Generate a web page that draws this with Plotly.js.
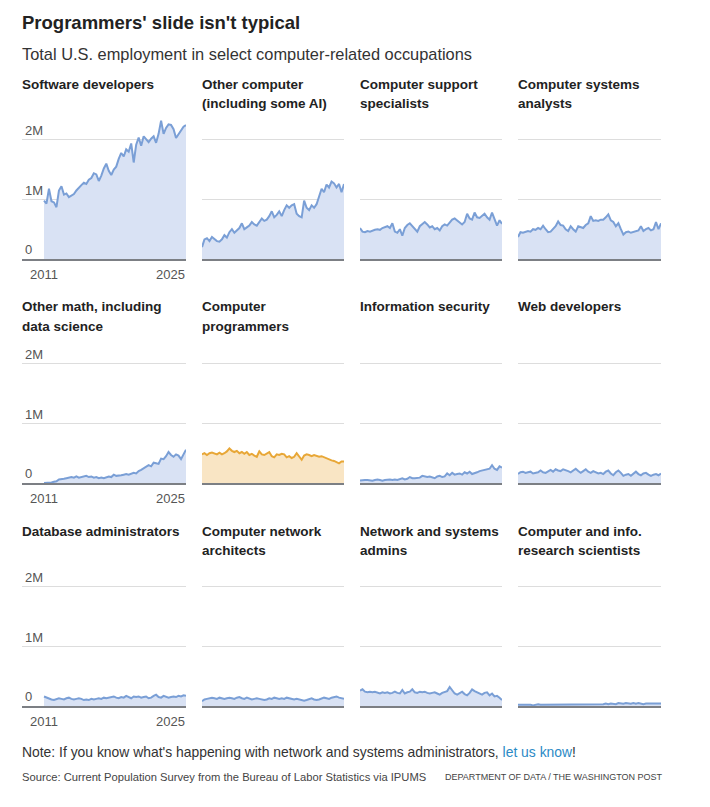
<!DOCTYPE html>
<html>
<head>
<meta charset="utf-8">
<script src="https://cdn.plot.ly/plotly-3.0.1.min.js"></script>
<style>
  html, body { margin: 0; padding: 0; background: #ffffff; }
  #chart { width: 710px; height: 807px; }
</style>
</head>
<body>
<div id="chart"></div>
<script>
// ---- Data (millions of workers, quarterly, 2011 Q1 -> 2025 Q2) ----
const startYear = 2011;
const nPoints = 58;

const softwareDevelopers = [0.98,0.93,1.18,0.97,0.95,0.87,1.15,1.22,1.08,1.10,1.04,1.07,1.09,1.15,1.20,1.24,1.28,1.26,1.33,1.36,1.44,1.42,1.31,1.40,1.52,1.60,1.48,1.41,1.50,1.55,1.68,1.78,1.72,1.84,1.80,1.94,1.62,1.92,2.04,1.90,2.06,2.00,1.96,2.02,2.06,1.95,2.10,2.32,2.10,2.20,2.26,2.25,2.18,2.03,2.10,2.16,2.22,2.25];
const otherComputer = [0.20,0.33,0.35,0.30,0.37,0.34,0.30,0.29,0.33,0.40,0.36,0.45,0.50,0.44,0.48,0.52,0.60,0.50,0.53,0.56,0.62,0.58,0.56,0.63,0.68,0.64,0.66,0.72,0.80,0.70,0.74,0.80,0.72,0.82,0.90,0.86,0.90,0.92,0.76,0.72,0.70,0.98,0.86,0.82,0.90,0.86,0.92,1.05,1.18,1.12,1.25,1.20,1.30,1.27,1.20,1.26,1.12,1.26];
const computerSupport = [0.52,0.46,0.45,0.47,0.46,0.48,0.49,0.50,0.49,0.52,0.53,0.55,0.52,0.60,0.46,0.44,0.50,0.39,0.52,0.57,0.60,0.55,0.50,0.46,0.55,0.58,0.62,0.58,0.53,0.55,0.50,0.52,0.48,0.55,0.58,0.56,0.62,0.66,0.68,0.65,0.62,0.58,0.62,0.76,0.68,0.66,0.78,0.70,0.69,0.72,0.76,0.70,0.66,0.78,0.68,0.56,0.65,0.59];
const systemsAnalysts = [0.37,0.45,0.44,0.46,0.47,0.46,0.50,0.49,0.52,0.50,0.56,0.50,0.45,0.46,0.50,0.55,0.63,0.57,0.56,0.50,0.47,0.55,0.50,0.46,0.55,0.54,0.52,0.57,0.60,0.72,0.64,0.65,0.64,0.66,0.66,0.70,0.75,0.65,0.62,0.55,0.60,0.50,0.41,0.45,0.46,0.44,0.45,0.47,0.48,0.55,0.47,0.50,0.52,0.48,0.50,0.62,0.50,0.60];
const otherMath = [0.00,0.00,0.01,0.01,0.02,0.03,0.06,0.06,0.07,0.08,0.09,0.10,0.09,0.11,0.09,0.10,0.11,0.12,0.10,0.11,0.09,0.10,0.08,0.09,0.08,0.10,0.11,0.10,0.14,0.12,0.12,0.13,0.14,0.15,0.14,0.16,0.17,0.16,0.20,0.22,0.25,0.27,0.30,0.28,0.34,0.33,0.32,0.41,0.40,0.45,0.52,0.47,0.44,0.48,0.46,0.40,0.48,0.56];
const computerProgrammers = [0.48,0.50,0.47,0.50,0.51,0.49,0.48,0.51,0.48,0.50,0.53,0.58,0.54,0.52,0.54,0.50,0.52,0.49,0.52,0.47,0.49,0.46,0.44,0.53,0.48,0.47,0.50,0.52,0.45,0.43,0.48,0.47,0.49,0.48,0.43,0.45,0.42,0.44,0.50,0.45,0.39,0.46,0.48,0.47,0.45,0.47,0.45,0.44,0.45,0.43,0.42,0.40,0.38,0.37,0.35,0.33,0.36,0.36];
const informationSecurity = [0.04,0.05,0.05,0.05,0.04,0.04,0.05,0.06,0.05,0.04,0.05,0.06,0.06,0.05,0.06,0.05,0.07,0.08,0.06,0.07,0.10,0.08,0.08,0.09,0.09,0.12,0.11,0.10,0.11,0.09,0.08,0.11,0.12,0.10,0.11,0.16,0.13,0.17,0.14,0.15,0.16,0.14,0.18,0.16,0.19,0.15,0.16,0.18,0.20,0.21,0.21,0.22,0.24,0.30,0.24,0.22,0.28,0.26];
const webDevelopers = [0.15,0.18,0.19,0.17,0.18,0.19,0.16,0.17,0.18,0.21,0.18,0.17,0.20,0.22,0.19,0.23,0.21,0.20,0.23,0.22,0.20,0.18,0.21,0.24,0.20,0.17,0.20,0.23,0.19,0.17,0.20,0.18,0.16,0.17,0.15,0.19,0.21,0.16,0.13,0.18,0.21,0.17,0.12,0.14,0.15,0.12,0.16,0.19,0.15,0.13,0.16,0.17,0.14,0.12,0.14,0.15,0.13,0.16];
const databaseAdmins = [0.16,0.14,0.13,0.11,0.10,0.12,0.13,0.12,0.11,0.13,0.14,0.12,0.11,0.12,0.13,0.12,0.10,0.11,0.10,0.12,0.11,0.12,0.13,0.12,0.14,0.13,0.14,0.15,0.16,0.14,0.13,0.15,0.14,0.17,0.15,0.13,0.16,0.15,0.16,0.14,0.15,0.16,0.13,0.14,0.17,0.19,0.15,0.14,0.17,0.16,0.14,0.15,0.16,0.15,0.17,0.16,0.18,0.17];
const networkArchitects = [0.08,0.11,0.12,0.13,0.14,0.13,0.12,0.14,0.13,0.12,0.13,0.14,0.13,0.12,0.14,0.15,0.13,0.12,0.14,0.13,0.11,0.12,0.13,0.12,0.11,0.10,0.11,0.13,0.12,0.14,0.13,0.12,0.13,0.12,0.14,0.13,0.12,0.11,0.12,0.11,0.10,0.09,0.10,0.12,0.13,0.11,0.10,0.11,0.12,0.14,0.13,0.12,0.14,0.15,0.16,0.14,0.13,0.12];
const networkAdmins = [0.26,0.28,0.24,0.23,0.24,0.23,0.24,0.22,0.21,0.23,0.22,0.23,0.21,0.22,0.24,0.22,0.21,0.27,0.21,0.23,0.24,0.28,0.23,0.22,0.24,0.23,0.24,0.22,0.21,0.22,0.23,0.21,0.19,0.22,0.24,0.25,0.32,0.26,0.21,0.19,0.22,0.24,0.20,0.18,0.22,0.28,0.25,0.23,0.21,0.19,0.22,0.23,0.18,0.21,0.16,0.17,0.14,0.10];
const researchScientists = [0.02,0.02,0.02,0.03,0.02,0.02,0.01,0.02,0.03,0.02,0.02,0.03,0.02,0.03,0.02,0.02,0.03,0.02,0.02,0.02,0.03,0.02,0.02,0.02,0.03,0.02,0.02,0.02,0.03,0.02,0.02,0.03,0.02,0.03,0.03,0.04,0.03,0.04,0.04,0.03,0.05,0.04,0.04,0.05,0.04,0.04,0.05,0.04,0.05,0.04,0.03,0.04,0.04,0.03,0.04,0.03,0.04,0.04];

const panelTitles = [
  ["Software developers"],
  ["Other computer", "(including some AI)"],
  ["Computer support", "specialists"],
  ["Computer systems", "analysts"],
  ["Other math, including", "data science"],
  ["Computer", "programmers"],
  ["Information security"],
  ["Web developers"],
  ["Database administrators"],
  ["Computer network", "architects"],
  ["Network and systems", "admins"],
  ["Computer and info.", "research scientists"]
];
const panelSeries = [softwareDevelopers, otherComputer, computerSupport, systemsAnalysts,
  otherMath, computerProgrammers, informationSecurity, webDevelopers,
  databaseAdmins, networkArchitects, networkAdmins, researchScientists];
const highlighted = [false,false,false,false,false,true,false,false,false,false,false,false];

const yTickVals = [0, 1, 2];
const yTickText = ["0", "1M", "2M"];
const xLabelFirst = "2011";
const xLabelLast = "2025";

// quarterly dates
const dates = [];
for (let i = 0; i < nPoints; i++) {
  const y = startYear + Math.floor(i / 4);
  const m = (i % 4) * 3 + 1;
  dates.push(y + "-" + String(m).padStart(2, "0") + "-01");
}

// ---- Layout geometry (pixels) ----
const W = 710, H = 807;
const colsPx = [[44, 186], [202, 344], [360, 502], [518, 661]];
const labelLeft = 22;
const rowsPx = [[119, 259], [343, 483], [566, 706]];
const titleLine1Y = [84, 307, 531];
const lineGap = 19;
const XS = -2; // compensate annotation padding

const BLUE = "#7a9fd6", BLUE_FILL = "#d9e2f4";
const ORANGE = "#e8a737", ORANGE_FILL = "#f9e5c4";
const FONT = "Liberation Sans, Arial, sans-serif";

const t0 = new Date(dates[0] + "T00:00:00Z").getTime();
const t1 = new Date(dates[nPoints - 1] + "T00:00:00Z").getTime();

const traces = [];
const layout = {
  width: W, height: H,
  margin: {l: 0, r: 0, t: 0, b: 0},
  paper_bgcolor: "#ffffff",
  plot_bgcolor: "rgba(0,0,0,0)",
  showlegend: false,
  font: {family: FONT, color: "#333"},
  annotations: [],
  hovermode: false
};

function iso(ms) { return new Date(ms).toISOString().slice(0, 10); }

for (let k = 0; k < 12; k++) {
  const r = Math.floor(k / 4), c = k % 4;
  const idx = k + 1;
  const xa = "x" + (idx === 1 ? "" : idx), ya = "y" + (idx === 1 ? "" : idx);
  const xKey = "xaxis" + (idx === 1 ? "" : idx), yKey = "yaxis" + (idx === 1 ? "" : idx);
  const hl = highlighted[k];
  traces.push({
    type: "scatter", mode: "lines",
    x: dates, y: panelSeries[k],
    xaxis: xa, yaxis: ya,
    fill: "tozeroy",
    fillcolor: hl ? ORANGE_FILL : BLUE_FILL,
    line: {color: hl ? ORANGE : BLUE, width: 2},
    hoverinfo: "skip"
  });
  const leftPx = c === 0 ? labelLeft : colsPx[c][0];
  const rightPx = colsPx[c][1];
  const dataW = colsPx[c][1] - colsPx[c][0];
  const startMs = c === 0 ? t0 - (t1 - t0) * (colsPx[0][0] - labelLeft) / dataW : t0;
  layout[xKey] = {
    domain: [leftPx / W, rightPx / W],
    anchor: ya,
    type: "date",
    range: [iso(startMs), dates[nPoints - 1]],
    showgrid: false, zeroline: false,
    showticklabels: false, ticks: "",
    showline: true, linecolor: "#7c7f84", linewidth: 2,
    fixedrange: true
  };
  layout[yKey] = {
    domain: [1 - rowsPx[r][1] / H, 1 - rowsPx[r][0] / H],
    anchor: xa,
    range: [0, 2.35],
    tickmode: "array", tickvals: yTickVals, ticktext: yTickText,
    showgrid: true, gridcolor: "#dddddd", gridwidth: 1,
    zeroline: false, showline: false, ticks: "",
    showticklabels: c === 0,
    ticklabelposition: "inside top",
    tickfont: {family: FONT, size: 13, color: "#555"},
    fixedrange: true
  };
  // panel titles
  panelTitles[k].forEach((line, j) => {
    layout.annotations.push({
      xref: "paper", yref: "paper",
      x: (c === 0 ? labelLeft : colsPx[c][0]) / W,
      y: 1 - (titleLine1Y[r] + j * lineGap) / H,
      xanchor: "left", yanchor: "middle", xshift: XS,
      text: line, showarrow: false,
      font: {family: FONT, size: 13.5, color: "#222", weight: "bold"}
    });
  });
  if (c === 0) {
    layout.annotations.push({
      xref: xa, yref: ya + " domain", x: dates[0], y: 0,
      xanchor: "center", yanchor: "top", yshift: -6,
      text: xLabelFirst, showarrow: false,
      font: {family: FONT, size: 13, color: "#555"}
    });
    layout.annotations.push({
      xref: xa, yref: ya + " domain", x: dates[nPoints - 1], y: 0,
      xanchor: "right", yanchor: "top", yshift: -6, xshift: 1,
      text: xLabelLast, showarrow: false,
      font: {family: FONT, size: 13, color: "#555"}
    });
  }
}

// headings and notes
layout.annotations.push(
  {xref: "paper", yref: "paper", x: 22 / W, y: 1 - 22 / H, xanchor: "left", yanchor: "middle", xshift: XS,
   text: "Programmers' slide isn't typical", showarrow: false,
   font: {family: FONT, size: 18.5, color: "#222", weight: "bold"}},
  {xref: "paper", yref: "paper", x: 22 / W, y: 1 - 54 / H, xanchor: "left", yanchor: "middle", xshift: XS,
   text: "Total U.S. employment in select computer-related occupations", showarrow: false,
   font: {family: FONT, size: 16.4, color: "#333"}},
  {xref: "paper", yref: "paper", x: 22 / W, y: 1 - 752 / H, xanchor: "left", yanchor: "middle", xshift: XS,
   text: "Note: If you know what's happening with network and systems administrators, <span style=\"color:#2b8ac6\">let us know</span>!",
   showarrow: false, font: {family: FONT, size: 13.9, color: "#333"}},
  {xref: "paper", yref: "paper", x: 22 / W, y: 1 - 777 / H, xanchor: "left", yanchor: "middle", xshift: XS,
   text: "Source: Current Population Survey from the Bureau of Labor Statistics via IPUMS",
   showarrow: false, font: {family: FONT, size: 11.2, color: "#444"}},
  {xref: "paper", yref: "paper", x: 445 / W, y: 1 - 777 / H, xanchor: "left", yanchor: "middle", xshift: XS,
   text: "DEPARTMENT OF DATA / THE WASHINGTON POST",
   showarrow: false, font: {family: FONT, size: 9, color: "#444"}}
);

Plotly.newPlot("chart", traces, layout, {displayModeBar: false, staticPlot: true});
</script>
</body>
</html>
